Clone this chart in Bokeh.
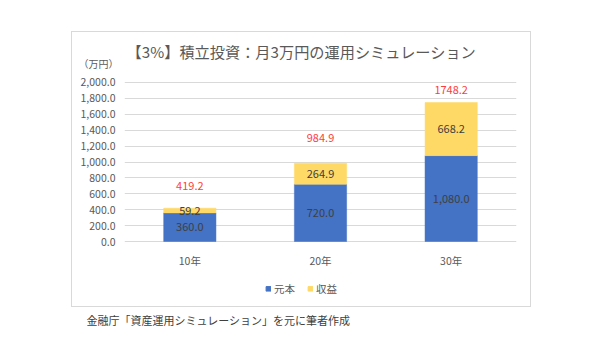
from bokeh.plotting import figure
from bokeh.layouts import column
from bokeh.models import (FactorRange, Range1d, NumeralTickFormatter, Label,
                          Legend, LegendItem, ColumnDataSource, FixedTicker)
from bokeh.core.properties import value
from bokeh.embed import file_html
from bokeh.resources import INLINE

years = ["10年", "20年", "30年"]
principal = [360.0, 720.0, 1080.0]
gain = [59.2, 264.9, 668.2]
totals = [419.2, 984.9, 1748.2]
total_label_pos = [700, 1300, 1905]  # where the red totals sit (data units)
y_ticks = [0, 200, 400, 600, 800, 1000, 1200, 1400, 1600, 1800, 2000]
series_names = ["元本", "収益"]
title_text = "【3%】積立投資：月3万円の運用シミュレーション"
unit_text = "（万円）"
source_text = "金融庁「資産運用シミュレーション」を元に筆者作成"

FONT = "Noto Sans CJK JP"
BLUE = "#4472C4"
YELLOW = "#FFD966"
GREY = "#595959"
BOX_W = 458


def blank(h, w=BOX_W):
    f = figure(width=w, height=h, output_backend="svg", toolbar_location=None,
               x_range=Range1d(0, w), y_range=Range1d(h, 0),
               x_axis_type=None, y_axis_type=None, min_border=0)
    f.outline_line_color = None
    f.grid.visible = False
    f.background_fill_color = "white"
    f.border_fill_color = "white"
    return f


# ---- top: title + unit (canvas y 32..72)
top = blank(40)
top.add_layout(Label(x=229, y=18, text=title_text, text_align="center", text_baseline="middle",
                     text_font=FONT, text_font_size="15.2px", text_color=GREY))
top.add_layout(Label(x=26, y=31, text=unit_text, text_align="center", text_baseline="middle",
                     text_font=FONT, text_font_size="10px", text_color=GREY))

# ---- main chart (canvas y 72..270)
p = figure(width=BOX_W, height=198, output_backend="svg", toolbar_location=None,
           x_range=FactorRange(factors=years, range_padding=0),
           y_range=Range1d(-25, 2025),
           min_border_left=52, min_border_right=14, min_border_top=8, min_border_bottom=26)
p.outline_line_color = None
p.background_fill_color = "white"
p.border_fill_color = "white"

src = ColumnDataSource(dict(years=years, principal=principal, gain=gain, totals=totals,
                            pos=total_label_pos,
                            p_mid=[v / 2 for v in principal],
                            g_mid=[a + b / 2 for a, b in zip(principal, gain)],
                            p_txt=[f"{v:,.1f}" for v in principal],
                            g_txt=[f"{v:,.1f}" for v in gain],
                            t_txt=[f"{v:.1f}" for v in totals]))

p.vbar_stack(["principal", "gain"], x="years", width=0.4, source=src,
             color=[BLUE, YELLOW], line_color=[BLUE, YELLOW], line_width=0.5)

p.text(x="years", y="p_mid", text="p_txt", source=src, text_align="center", text_baseline="middle",
       text_font=value(FONT), text_font_size="11px", text_color="#404040")
p.text(x="years", y="g_mid", text="g_txt", source=src, text_align="center", text_baseline="middle",
       text_font=value(FONT), text_font_size="11px", text_color="#404040")
p.text(x="years", y="pos", text="t_txt", source=src, text_align="center", text_baseline="middle",
       text_font=value(FONT), text_font_size="11px", text_color="#ff3c3c")

p.yaxis.ticker = FixedTicker(ticks=y_ticks)
p.yaxis.formatter = NumeralTickFormatter(format="0,0.0")
for ax in (p.xaxis[0], p.yaxis[0]):
    ax.axis_line_color = None
    ax.major_tick_line_color = None
    ax.minor_tick_line_color = None
    ax.major_label_text_color = GREY
    ax.major_label_text_font = FONT
    ax.major_label_text_font_size = "10.5px"
p.yaxis.major_label_standoff = 3
p.xaxis.major_label_standoff = 3
p.xgrid.grid_line_color = None
p.ygrid.grid_line_color = "#d9d9d9"
p.ygrid.grid_line_width = 1

# ---- legend strip (canvas y 270..306); the swatch renderers sit off-screen, only their legend glyphs show
lg = blank(36)
r1 = lg.rect(x=[-1000], y=[-1000], width=1, height=1, color=BLUE)
r2 = lg.rect(x=[-1000], y=[-1000], width=1, height=1, color=YELLOW)
legend = Legend(items=[LegendItem(label=series_names[0], renderers=[r1]),
                       LegendItem(label=series_names[1], renderers=[r2])],
                orientation="horizontal", location="center",
                glyph_width=6, glyph_height=6, label_text_font=FONT, label_text_font_size="10.5px",
                label_text_color=GREY, background_fill_alpha=0, border_line_color=None,
                spacing=12, label_standoff=3, padding=0, margin=0, label_height=12)
lg.add_layout(legend, "center")

box = column(column(top), column(p), column(lg), spacing=0,
             styles={"border": "1px solid #d9d9d9", "background-color": "white"})

# ---- footnote (outside the box)
foot = blank(31)
foot.add_layout(Label(x=15, y=12, text=source_text, text_align="left", text_baseline="middle",
                      text_font=FONT, text_font_size="11px", text_color="#404040"))

page = column(box, foot, spacing=0, margin=(31, 0, 0, 71))

open("out.html", "w").write(file_html(page, INLINE))
